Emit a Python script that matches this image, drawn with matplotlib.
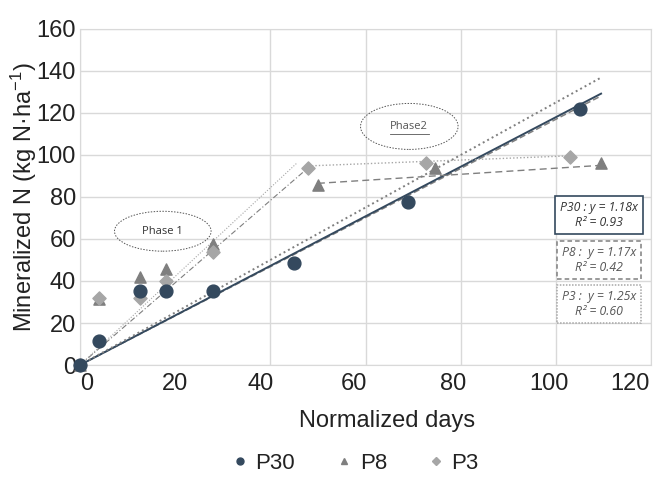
import matplotlib.pyplot as plt
from matplotlib.patches import Ellipse
from matplotlib.lines import Line2D

# data
days_p30 = [0, 4, 12.6, 18, 28, 45, 69, 105]
n_p30 = [0, 11.5, 35, 35, 35, 48.7, 77.8, 122]
days_p8 = [0, 4, 12.6, 18, 28, 50, 74.7, 109.5]
n_p8 = [0, 31.5, 41.8, 45.8, 57.8, 85.7, 94, 96]
days_p3 = [0, 4, 12.6, 18, 28, 48, 72.8, 103]
n_p3 = [0, 31.7, 31.7, 40.1, 53.7, 94, 96, 99.2]

slopes = {'P30': 1.18, 'P8': 1.17, 'P3': 1.25}
r2 = {'P30': 0.93, 'P8': 0.42, 'P3': 0.60}
x_end = 109.5

# phase segments (x pair, y pair)
p8_phase1 = ([0, 48], [0, 94])
p3_phase1 = ([0, 45.5], [0, 96])
p8_phase2 = ([50, 109], [86.5, 95])
p3_phase2 = ([48, 103], [94.8, 99.6])

# x tick labels sit slightly off the grid lines in the original
xtick_vals = [0, 20, 40, 60, 80, 100, 120]
xtick_pos = [1.5, 20, 38, 57.5, 78.5, 98.5, 115.5]

navy = '#34495e'
dark_gray = '#7f7f7f'
light_gray = '#a6a6a6'

plt.rcParams['font.family'] = 'Liberation Sans'
plt.rcParams['mathtext.fontset'] = 'custom'
plt.rcParams['mathtext.rm'] = 'Liberation Sans'
plt.rcParams['mathtext.default'] = 'rm'

fig = plt.figure(figsize=(6.53, 4.83), dpi=100)
ax = fig.add_axes([0.1225, 0.2443, 0.8745, 0.6957])

ax.set_xlim(0, 120)
ax.set_ylim(0, 160)
ax.set_xticks(range(0, 121, 20), minor=True)
ax.set_xticks(xtick_pos, [str(v) for v in xtick_vals])
ax.set_yticks(range(0, 161, 20))
ax.grid(True, which='minor', axis='x', color='#d9d9d9', linewidth=1)
ax.grid(True, which='major', axis='y', color='#d9d9d9', linewidth=1)
ax.set_axisbelow(True)
for s in ax.spines.values():
    s.set_color('#d9d9d9')
ax.tick_params(which='both', length=0, labelsize=17, colors='#222222')
ax.tick_params(axis='x', pad=6)
ax.tick_params(axis='y', pad=3)

# overall trend lines
ax.plot([0, x_end], [0, slopes['P8'] * x_end], color=dark_gray, lw=1.1, ls=(0, (4, 2)))
ax.plot([0, x_end], [0, slopes['P30'] * x_end], color=navy, lw=1.4)
ax.plot([0, x_end], [0, slopes['P3'] * x_end], color=dark_gray, lw=1.4, ls=(0, (1, 1.6)))

# phase lines
ax.plot(*p8_phase1, color=dark_gray, lw=0.8, ls=(0, (5, 2, 1, 2)))
ax.plot(*p3_phase1, color=light_gray, lw=0.8, ls=(0, (1, 1.5)))
ax.plot(*p8_phase2, color=dark_gray, lw=1.0, ls=(0, (5, 3)))
ax.plot(*p3_phase2, color=light_gray, lw=1.0, ls=(0, (1, 1.5)))

# points
ax.scatter(days_p30, n_p30, s=85, color=navy, zorder=5, clip_on=False)
ax.scatter(days_p8, n_p8, s=65, marker='^', color=dark_gray, zorder=4, clip_on=False)
ax.scatter(days_p3, n_p3, s=45, marker='D', color=light_gray, zorder=4, clip_on=False)

# phase ellipses
ax.add_patch(Ellipse((17.4, 63.7), 20.3, 19, fill=False, ec='#555555', lw=0.7, ls=(0, (1.5, 1.5))))
ax.text(17.4, 63.7, 'Phase 1', ha='center', va='center', fontsize=8,
        family='Open Sans', color='#333333')
ax.add_patch(Ellipse((69.2, 113.6), 20.5, 21.9, fill=False, ec='#555555', lw=0.7, ls=(0, (1.5, 1.5))))
ax.text(69.2, 113.6, 'Phase2', ha='center', va='center', fontsize=8,
        family='Open Sans', color='#555555')
ax.plot([65.1, 73.3], [110.2, 110.2], color='#555555', lw=0.6)

# equation boxes
box_styles = [('P30', navy, '-', 1.2, 71.4, '#333333', ' '),
              ('P8', dark_gray, (0, (3, 2)), 1.1, 50.1, '#555555', '  '),
              ('P3', light_gray, (0, (1, 1)), 1.1, 29.0, '#555555', '  ')]
for name, ec, ls, lw, yc, tc, gap in box_styles:
    ax.text(109.1, yc, f'{name} :{gap}y = {slopes[name]:.2f}x\nR² = {r2[name]:.2f}',
            ha='center', va='center', fontsize=8.8, style='italic',
            family='Open Sans', color=tc, linespacing=1.25, multialignment='center',
            bbox=dict(boxstyle='square,pad=0.4', fc='white', ec=ec, lw=lw, ls=ls), zorder=6)

ax.set_xlabel('Normalized days', fontsize=17, labelpad=12, color='#222222')
ax.xaxis.set_label_coords(0.538, -0.135)
ax.set_ylabel('Mineralized N (kg N·ha$^{-1}$)', fontsize=17, labelpad=-2, color='#222222')

handles = [Line2D([], [], marker='o', color=navy, ls='', ms=5),
           Line2D([], [], marker='^', color=dark_gray, ls='', ms=5),
           Line2D([], [], marker='D', color=light_gray, ls='', ms=4)]
fig.legend(handles, ['P30', 'P8', 'P3'], loc='center', bbox_to_anchor=(0.54, 0.04),
           ncol=3, frameon=False, fontsize=16, handletextpad=0.1, columnspacing=1.6,
           handlelength=1.2, labelcolor='#222222')

fig.savefig('out.png', dpi=100)
